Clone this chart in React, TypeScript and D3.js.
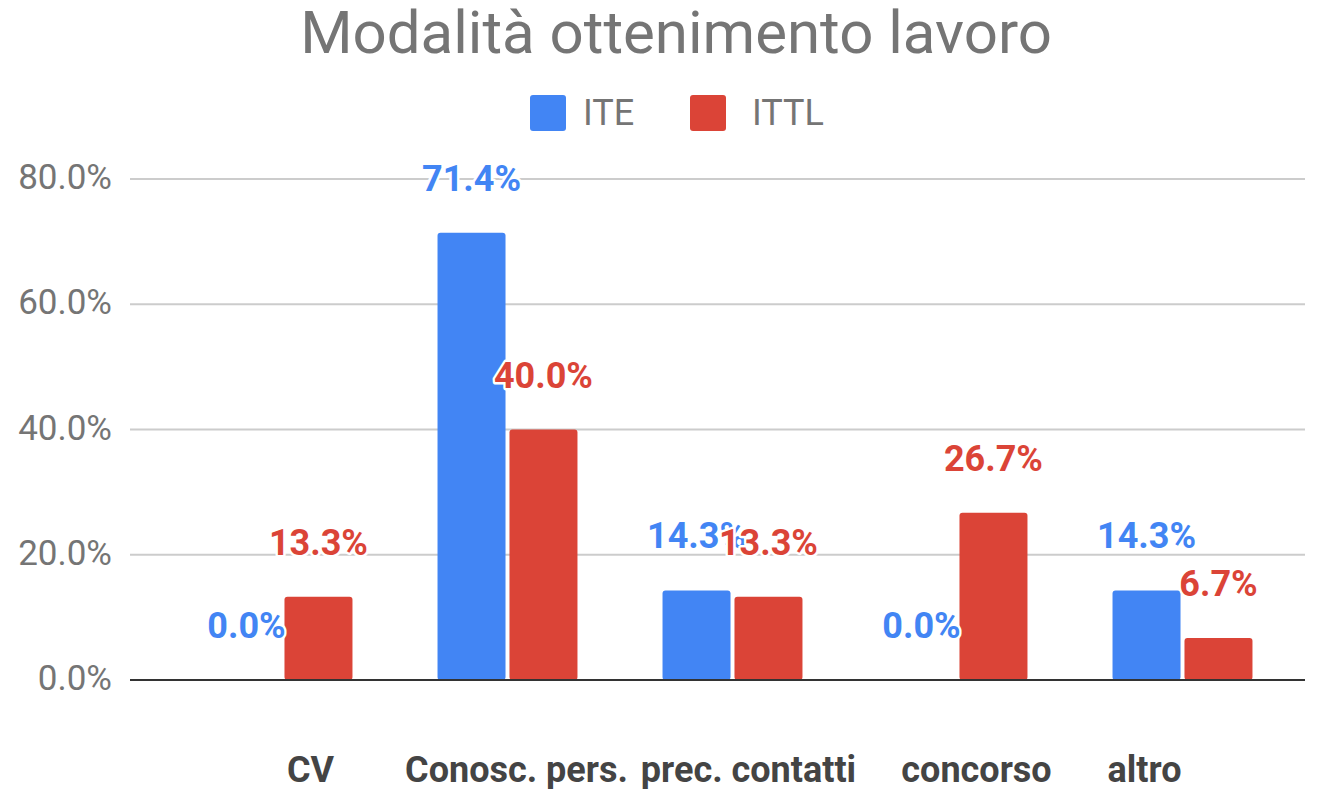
import React from 'react';
import * as d3 from 'd3';

const title = 'Modalità ottenimento lavoro';
const categories = ['CV', 'Conosc. pers.', 'prec. contatti', 'concorso', 'altro'];
const seriesNames = ['ITE', 'ITTL'];
const iteValues = [0.0, 71.4, 14.3, 0.0, 14.3];
const ittlValues = [13.3, 40.0, 13.3, 26.7, 6.7];
const yTicks = [0, 20, 40, 60, 80];
const colors = ['#4285F4', '#DB4437'];

const width = 1319;
const height = 789;
const gridLeft = 130;
const gridRight = 1305;
// offsets of the category labels from their group centres, as the source chart laid them out
const labelShift = [28, 9, 16, 19, -38];

const App: React.FC = () => {
  const x = d3
    .scaleBand<string>()
    .domain(categories)
    .range([170, 1295])
    .paddingInner(0.378)
    .paddingOuter(0.189);

  const xSub = d3
    .scaleBand<string>()
    .domain(seriesNames)
    .range([0, x.bandwidth()])
    .paddingInner(0.055);

  const y = d3.scaleLinear().domain([0, 80]).range([680, 179]);

  const series = [iteValues, ittlValues];
  const fmt = (v: number) => `${v.toFixed(1)}%`;
  const font = 'Roboto, "Noto Sans", sans-serif';

  return (
    <div style={{ position: 'fixed', left: 0, top: 0 }}>
      <svg width={width} height={height} style={{ display: 'block', fontFamily: font }}>
        <rect width={width} height={height} fill="#fff" />
        <text x={676} y={53} textAnchor="middle" fontSize={60} fill="#757575">
          {title}
        </text>

        {/* legend */}
        {seriesNames.map((name, i) => (
          <g key={name} transform={`translate(${530 + i * 160}, 95)`}>
            <rect width={36} height={36} rx={3} fill={colors[i]} />
            <text x={53 + i * 9} y={30} fontSize={36} fill="#757575">
              {name}
            </text>
          </g>
        ))}

        {/* grid + y ticks */}
        {yTicks.map((t) => (
          <g key={t}>
            {t !== 0 && (
              <line x1={gridLeft} x2={gridRight} y1={y(t)} y2={y(t)} stroke="#cccccc" strokeWidth={2} />
            )}
            <text x={112} y={y(t) + 10} textAnchor="end" fontSize={35} fill="#757575">
              {fmt(t)}
            </text>
          </g>
        ))}

        {/* bars */}
        {series.map((vals, si) =>
          vals.map((v, ci) =>
            v > 0 ? (
              <rect
                key={`b-${si}-${ci}`}
                x={(x(categories[ci]) || 0) + (xSub(seriesNames[si]) || 0)}
                y={y(v)}
                width={xSub.bandwidth()}
                height={y(0) - y(v)}
                rx={3}
                fill={colors[si]}
              />
            ) : null
          )
        )}

        <line x1={gridLeft} x2={gridRight} y1={y(0)} y2={y(0)} stroke="#333333" strokeWidth={2} />

        {/* data labels */}
        {series.map((vals, si) =>
          vals.map((v, ci) => (
            <text
              key={`l-${si}-${ci}`}
              x={(x(categories[ci]) || 0) + (xSub(seriesNames[si]) || 0) + xSub.bandwidth() / 2}
              y={y(v) - 42}
              textAnchor="middle"
              fontSize={36}
              fontWeight="bold"
              fill={colors[si]}
              stroke="#fff"
              strokeWidth={5}
              strokeLinejoin="round"
              paintOrder="stroke"
            >
              {fmt(v)}
            </text>
          ))
        )}

        {/* category labels */}
        {categories.map((c, i) => (
          <text
            key={c}
            x={(x(c) || 0) + x.bandwidth() / 2 + labelShift[i]}
            y={782}
            textAnchor="middle"
            fontSize={36}
            fontWeight="bold"
            fill="#444444"
          >
            {c}
          </text>
        ))}
      </svg>
    </div>
  );
};

export default App;
